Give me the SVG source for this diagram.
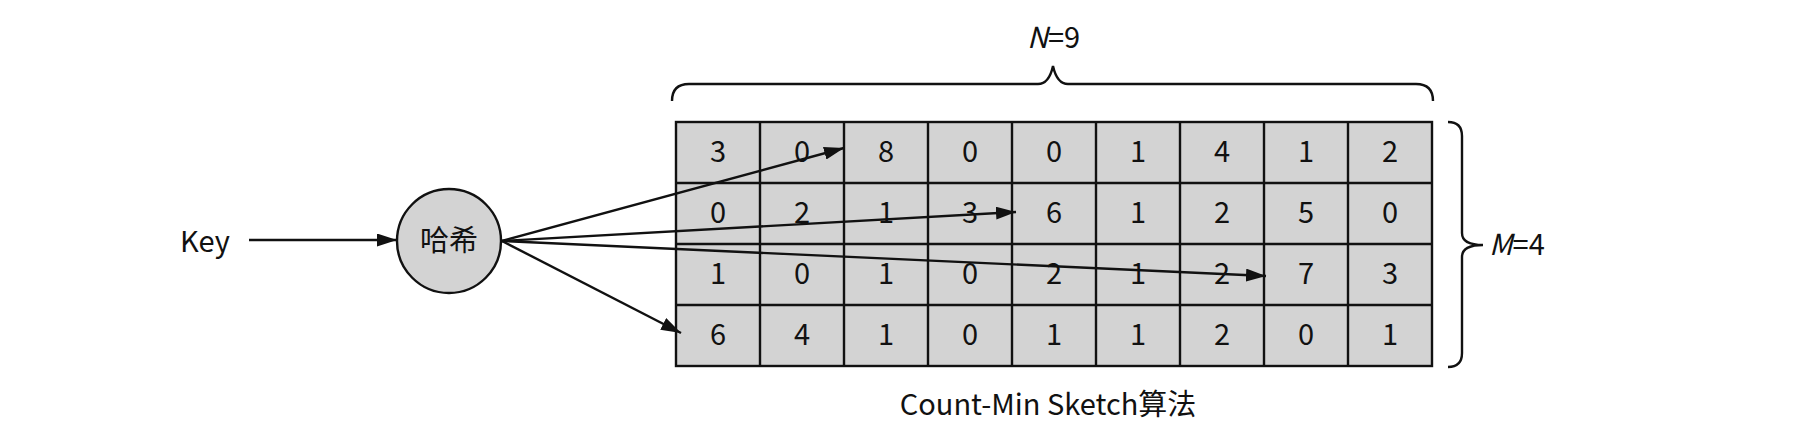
<svg xmlns="http://www.w3.org/2000/svg" width="1800" height="439" viewBox="0 0 1800 439">
<style>
text{font-family:"Noto Sans CJK SC","Noto Sans",sans-serif;fill:#111}
.num{font-size:29px;text-anchor:middle}
.lbl{font-size:29px}
.grid{fill:#d3d3d3;stroke:#111;stroke-width:2.4}
.gl{stroke:#111;stroke-width:2.4}
.conn{stroke:#111;stroke-width:2.4;fill:none}
.brace{stroke:#111;stroke-width:2.4;fill:none}
</style>
<defs>
<marker id="ah" viewBox="0 0 20 13" refX="20" refY="6.5" markerWidth="20" markerHeight="13" markerUnits="userSpaceOnUse" orient="auto"><path d="M0,0 L20,6.5 L0,13 z" fill="#111"/></marker>
</defs>
<rect width="1800" height="439" fill="#fff"/>
<g id="key"><text class="lbl" x="180" y="252">Key</text></g>
<g id="hash"><circle cx="449" cy="241" r="52" fill="#d3d3d3" stroke="#111" stroke-width="2.4"/><text class="num" x="449" y="251" font-size="27">哈希</text></g>
<g id="sketch">
<rect class="grid" x="676" y="122" width="756" height="244"/>
<g class="gl">
<line x1="760" y1="122" x2="760" y2="366"/><line x1="844" y1="122" x2="844" y2="366"/><line x1="928" y1="122" x2="928" y2="366"/><line x1="1012" y1="122" x2="1012" y2="366"/><line x1="1096" y1="122" x2="1096" y2="366"/><line x1="1180" y1="122" x2="1180" y2="366"/><line x1="1264" y1="122" x2="1264" y2="366"/><line x1="1348" y1="122" x2="1348" y2="366"/>
<line x1="676" y1="183" x2="1432" y2="183"/><line x1="676" y1="244" x2="1432" y2="244"/><line x1="676" y1="305" x2="1432" y2="305"/>
</g>
<g class="nums">
<text class="num" x="718" y="162">3</text><text class="num" x="802" y="162">0</text><text class="num" x="886" y="162">8</text><text class="num" x="970" y="162">0</text><text class="num" x="1054" y="162">0</text><text class="num" x="1138" y="162">1</text><text class="num" x="1222" y="162">4</text><text class="num" x="1306" y="162">1</text><text class="num" x="1390" y="162">2</text>
<text class="num" x="718" y="223">0</text><text class="num" x="802" y="223">2</text><text class="num" x="886" y="223">1</text><text class="num" x="970" y="223">3</text><text class="num" x="1054" y="223">6</text><text class="num" x="1138" y="223">1</text><text class="num" x="1222" y="223">2</text><text class="num" x="1306" y="223">5</text><text class="num" x="1390" y="223">0</text>
<text class="num" x="718" y="284">1</text><text class="num" x="802" y="284">0</text><text class="num" x="886" y="284">1</text><text class="num" x="970" y="284">0</text><text class="num" x="1054" y="284">2</text><text class="num" x="1138" y="284">1</text><text class="num" x="1222" y="284">2</text><text class="num" x="1306" y="284">7</text><text class="num" x="1390" y="284">3</text>
<text class="num" x="718" y="345">6</text><text class="num" x="802" y="345">4</text><text class="num" x="886" y="345">1</text><text class="num" x="970" y="345">0</text><text class="num" x="1054" y="345">1</text><text class="num" x="1138" y="345">1</text><text class="num" x="1222" y="345">2</text><text class="num" x="1306" y="345">0</text><text class="num" x="1390" y="345">1</text>
</g>
</g>
<g id="brace-n"><path class="brace" d="M672,101 Q672,84 689,84 L1038,84 Q1049,84 1053,66 Q1057,84 1068,84 L1416,84 Q1433,84 1433,101"/><text class="lbl" x="1027" y="48"><tspan font-style="italic">N</tspan>=9</text></g>
<g id="brace-m"><path class="brace" d="M1448,122 Q1462,122 1462,136 L1462,233 Q1462,245 1483,245 Q1462,245 1462,257 L1462,353 Q1462,367 1448,367"/><text class="lbl" x="1489" y="255"><tspan font-style="italic">M</tspan>=4</text></g>
<g id="caption"><text class="lbl" x="1048" y="415" text-anchor="middle">Count-Min Sketch算法</text></g>
<g id="connectors">
<path class="conn" marker-end="url(#ah)" d="M249,240 L397,240"/>
<path class="conn" marker-end="url(#ah)" d="M502,241 L844,148"/>
<path class="conn" marker-end="url(#ah)" d="M502,241 L1016,212"/>
<path class="conn" marker-end="url(#ah)" d="M502,241 L1266,276"/>
<path class="conn" marker-end="url(#ah)" d="M502,241 L681,333"/>
</g>
</svg>
